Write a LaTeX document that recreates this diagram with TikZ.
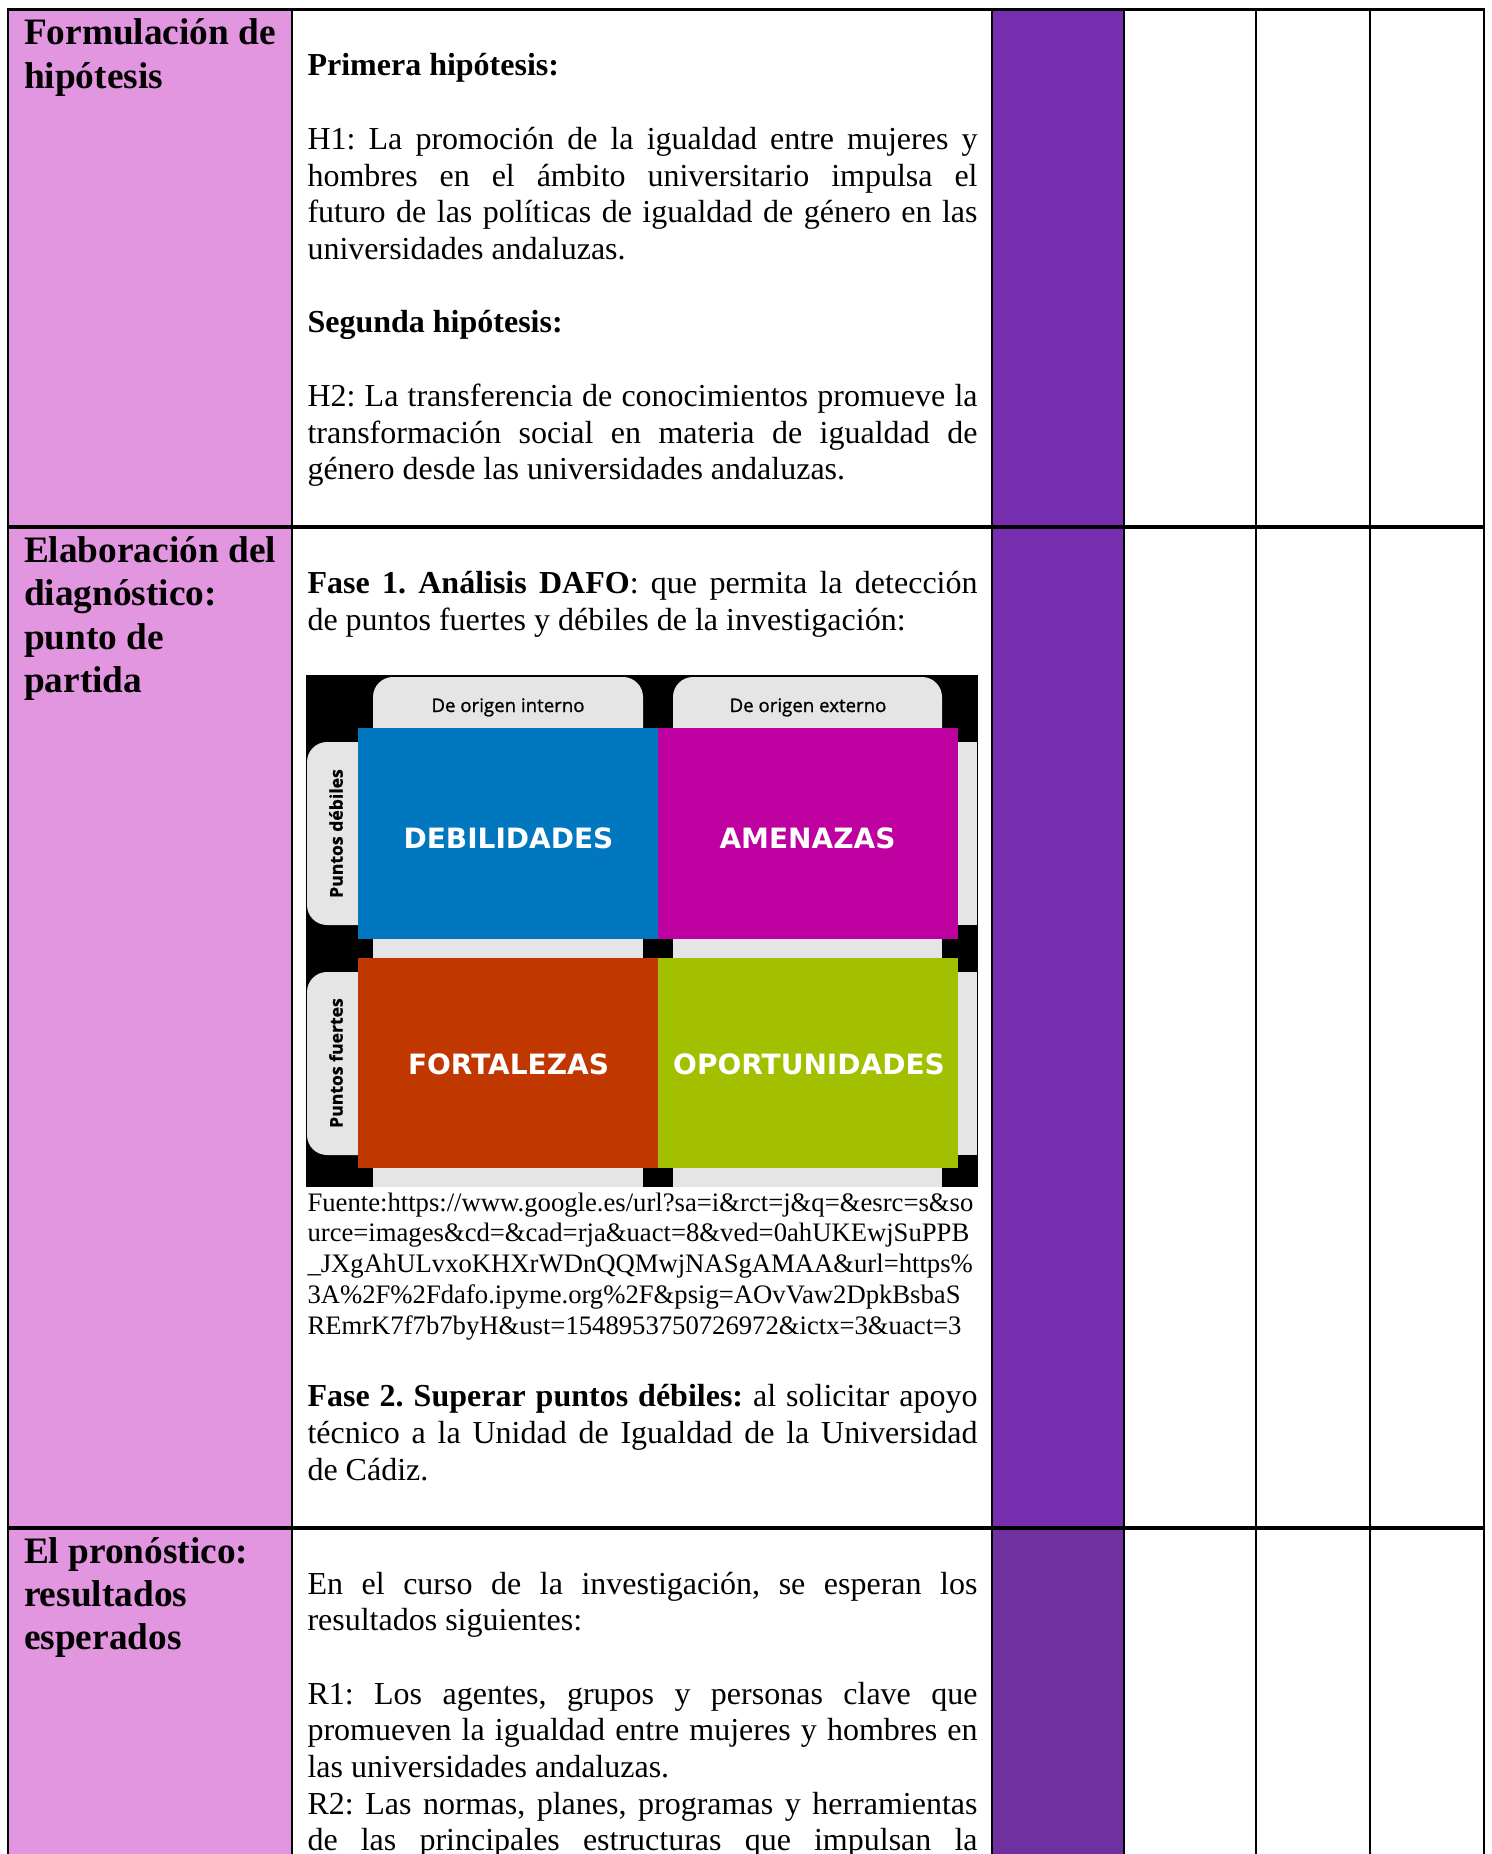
\documentclass[tikz,border=0pt]{standalone}
\usepackage{fontspec}
\setmainfont{Liberation Serif}
\newfontfamily\dafofont{DejaVu Sans}
\newfontfamily\tabfont[FakeBold=1]{Open Sans}
\definecolor{pinkcol}{RGB}{227,150,224}
\definecolor{purpA}{RGB}{118,46,175}
\definecolor{purpB}{RGB}{111,48,160}
\definecolor{dblue}{RGB}{0,119,190}
\definecolor{dmag}{RGB}{190,0,160}
\definecolor{dred}{RGB}{192,56,0}
\definecolor{dgreen}{RGB}{162,192,0}
\definecolor{dgray}{RGB}{229,229,229}
\newlength\colw \setlength\colw{251.25pt}
\newcommand\JL[3]{\node[body] (#1) at (307,#2) {\makebox[\colw][s]{#3}};}
\newcommand\PL[3]{\node[body] (#1) at (307,#2) {#3};}
\newcommand\HL[3]{\node[head] (#1) at (23.5,#2) {#3};}
\newcommand\UL[3]{\node[src] (#1) at (307,#2) {#3};}
\frenchspacing
\begin{document}
\begin{tikzpicture}[x=0.375pt,y=-0.375pt,
 body/.style={anchor=base west,inner sep=0pt,font=\fontsize{12}{13.8}\selectfont},
 head/.style={anchor=base west,inner sep=0pt,font=\fontsize{14}{16}\selectfont\bfseries},
 src/.style={anchor=base west,inner sep=0pt,font=\fontsize{10}{11.5}\selectfont},
 quad/.style={anchor=center,inner sep=0pt,text=white,font=\dafofont\bfseries\fontsize{10.5}{12}\selectfont},
 tabtxt/.style={anchor=base,inner sep=0pt,text=black,font=\tabfont\fontsize{7}{8}\selectfont},
 sidetxt/.style={anchor=center,inner sep=0pt,rotate=90,text=black,font=\tabfont\bfseries\fontsize{6.6}{8}\selectfont},
 gridv/.style={line width=1pt},
 gridh/.style={line width=1.5pt},
 tabbox/.style={fill=dgray,rounded corners=7.5pt},
]
\clip (0,0) rectangle (1491,1854);
\fill[white] (0,0) rectangle (1491,1854);
% column fills
\fill[pinkcol] (8,9.5) rectangle (292,1854);
\fill[purpA] (992,9.5) rectangle (1124,1527.5);
\fill[purpB] (992,1527.5) rectangle (1124,1854);

% DAFO picture
\fill[black] (306,675) rectangle (978,1187);
\fill[tabbox] (373,677) rectangle (643,760);
\fill[tabbox] (673,677) rectangle (942,760);
\fill[tabbox] (307,742) rectangle (400,925);
\fill[tabbox] (307,972) rectangle (400,1155);
\fill[dgray] (373,938) rectangle (643,958);
\fill[dgray] (673,938) rectangle (942,958);
\fill[dgray] (373,1167) rectangle (643,1187);
\fill[dgray] (673,1167) rectangle (942,1187);
\fill[dgray] (950,742) rectangle (977,925);
\fill[dgray] (950,972) rectangle (977,1155);
\fill[dblue] (358,728) rectangle (658,938.5);
\fill[dmag] (658,728) rectangle (958,938.5);
\fill[dred] (358,957.5) rectangle (658,1167.5);
\fill[dgreen] (658,957.5) rectangle (958,1167.5);
\node[tabtxt] (oi) at (508,712) {De origen interno};
\node[tabtxt] (oe) at (808,712) {De origen externo};
\node[sidetxt] (pd) at (336,833.5) {Puntos débiles};
\node[sidetxt] (pf) at (336,1063) {Puntos fuertes};
\node[quad] (qd) at (508.5,838) {DEBILIDADES};
\node[quad] (qa) at (807.5,838) {AMENAZAS};
\node[quad] (qf) at (508.5,1064) {FORTALEZAS};
\node[quad] (qo) at (809,1064) {OPORTUNIDADES};

% headers
\HL{h1a}{45}{Formulación de}
\HL{h1b}{88.4}{hipótesis}
\HL{h2a}{562.5}{Elaboración del}
\HL{h2b}{605.9}{diagnóstico:}
\HL{h2c}{649.3}{punto de}
\HL{h2d}{692.7}{partida}
\HL{h3a}{1563}{El pronóstico:}
\HL{h3b}{1606.4}{resultados}
\HL{h3c}{1649.8}{esperados}

% row 1 body
\PL{p1}{76}{\textbf{Primera hipótesis:}}
\JL{p2}{149.5}{H1: La promoción de la igualdad entre mujeres y}
\JL{p3}{186.2}{hombres en el ámbito universitario impulsa el}
\JL{p4}{222.9}{futuro de las políticas de igualdad de género en las}
\PL{p5}{259.6}{universidades andaluzas.}
\PL{p6}{333}{\textbf{Segunda hipótesis:}}
\JL{p7}{406.4}{H2: La transferencia de conocimientos promueve la}
\JL{p8}{443.1}{transformación social en materia de igualdad de}
\PL{p9}{479.8}{género desde las universidades andaluzas.}

% row 2 body
\JL{q1}{593.5}{\textbf{Fase 1. Análisis DAFO}: que permita la detección}
\PL{q2}{630.2}{de puntos fuertes y débiles de la investigación:}
\UL{u1}{1211}{Fuente:https://www.google.es/url?sa=i\&rct=j\&q=\&esrc=s\&so}
\UL{u2}{1241.8}{urce=images\&cd=\&cad=rja\&uact=8\&ved=0ahUKEwjSuPPB}
\UL{u3}{1272.6}{\_JXgAhULvxoKHXrWDnQQMwjNASgAMAA\&url=https\%}
\UL{u4}{1303.4}{3A\%2F\%2Fdafo.ipyme.org\%2F\&psig=AOvVaw2DpkBsbaS}
\UL{u5}{1334.2}{REmrK7f7b7byH\&ust=1548953750726972\&ictx=3\&uact=3}
\JL{q3}{1406.7}{\textbf{Fase 2. Superar puntos débiles:} al solicitar apoyo}
\JL{q4}{1443.4}{técnico a la Unidad de Igualdad de la Universidad}
\PL{q5}{1480.1}{de Cádiz.}

% row 3 body
\JL{r1}{1594}{En el curso de la investigación, se esperan los}
\PL{r2}{1630.7}{resultados siguientes:}
\JL{r3}{1704.1}{R1: Los agentes, grupos y personas clave que}
\JL{r4}{1740.8}{promueven la igualdad entre mujeres y hombres en}
\PL{r5}{1777.5}{las universidades andaluzas.}
\JL{r6}{1814.2}{R2: Las normas, planes, programas y herramientas}
\JL{r7}{1850.9}{de las principales estructuras que impulsan la}

% grid
\draw[line width=1.1pt,line cap=rect] (8,9.5) -- (1484,9.5);
\draw[gridh] (8,527) -- (1484,527);
\draw[gridh] (8,1527.5) -- (1484,1527.5);
\foreach \x in {8,292,992,1124,1256,1370,1484} \draw[gridv] (\x,9.5) -- (\x,1860);
\end{tikzpicture}
\end{document}
